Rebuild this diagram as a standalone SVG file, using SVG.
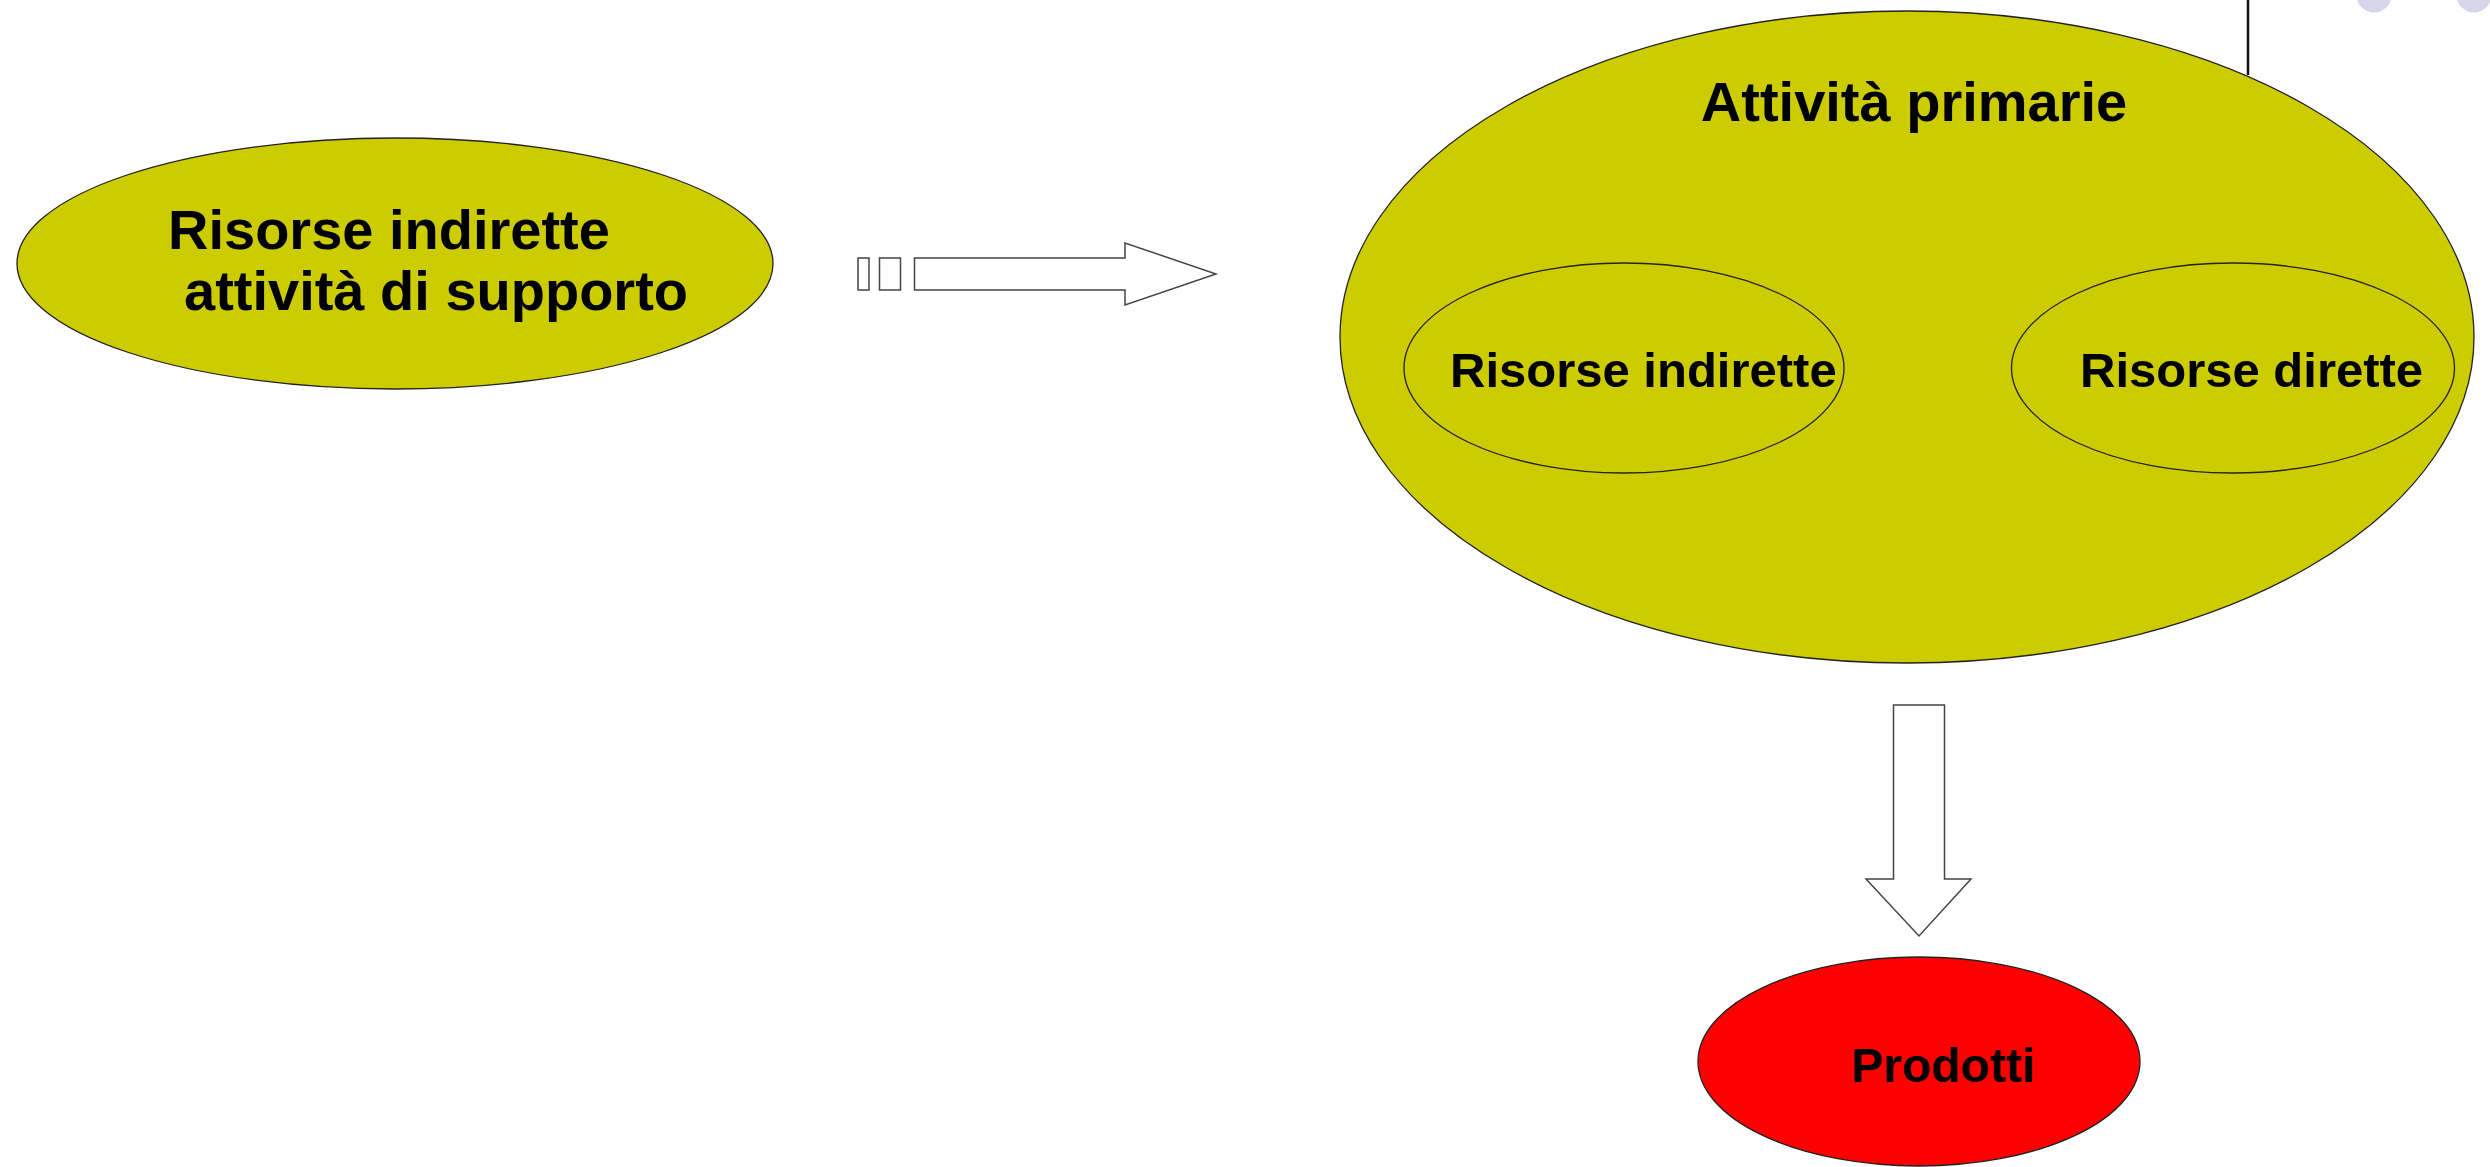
<svg xmlns="http://www.w3.org/2000/svg" width="2490" height="1167" viewBox="0 0 2490 1167">
<style>
.node{stroke:#222;stroke-width:1.3}
.yel{fill:#cccc00}
.red{fill:#ff0000}
.t{font-family:"Liberation Sans",Arial,Helvetica,sans-serif;font-weight:bold;fill:#000}
.arr{fill:#fff;stroke:#444;stroke-width:1.5}
</style>
<rect width="2490" height="1167" fill="#fff"/>
<g id="decor">
<line x1="2248" y1="0" x2="2248" y2="75" stroke="#111" stroke-width="2.5"/>
<circle cx="2374" cy="-5" r="17.5" fill="#d6d6ea"/>
<circle cx="2474" cy="-5" r="17.5" fill="#d6d6ea"/>
</g>
<g id="node-supporto">
<ellipse class="node yel" cx="395" cy="263.5" rx="378" ry="125.5"/>
<text class="t" x="168" y="249" font-size="56">Risorse indirette</text>
<text class="t" x="184" y="310" font-size="56">attività di supporto</text>
</g>
<g id="node-primarie">
<ellipse class="node yel" cx="1907" cy="337" rx="567" ry="326"/>
<text class="t" x="1914" y="121" font-size="56" text-anchor="middle">Attività primarie</text>
</g>
<g id="node-indirette">
<ellipse class="node yel" cx="1624" cy="368" rx="220" ry="105"/>
<text class="t" x="1450" y="387" font-size="49">Risorse indirette</text>
</g>
<g id="node-dirette">
<ellipse class="node yel" cx="2233" cy="368" rx="221.5" ry="105"/>
<text class="t" x="2080" y="387" font-size="49">Risorse dirette</text>
</g>
<g id="node-prodotti">
<ellipse class="node red" cx="1919" cy="1061.5" rx="221" ry="104.5"/>
<text class="t" x="1851" y="1082" font-size="48">Prodotti</text>
</g>
<g id="connectors">
<rect class="arr" x="858" y="258" width="11" height="32"/>
<rect class="arr" x="879.5" y="258" width="21" height="32"/>
<polygon class="arr" points="914.5,258 1125,258 1125,243 1216,274 1125,305 1125,290 914.5,290"/>
<polygon class="arr" points="1893.5,705 1944.5,705 1944.5,879 1971,879 1919,936 1866,879 1893.5,879"/>
</g>
</svg>
